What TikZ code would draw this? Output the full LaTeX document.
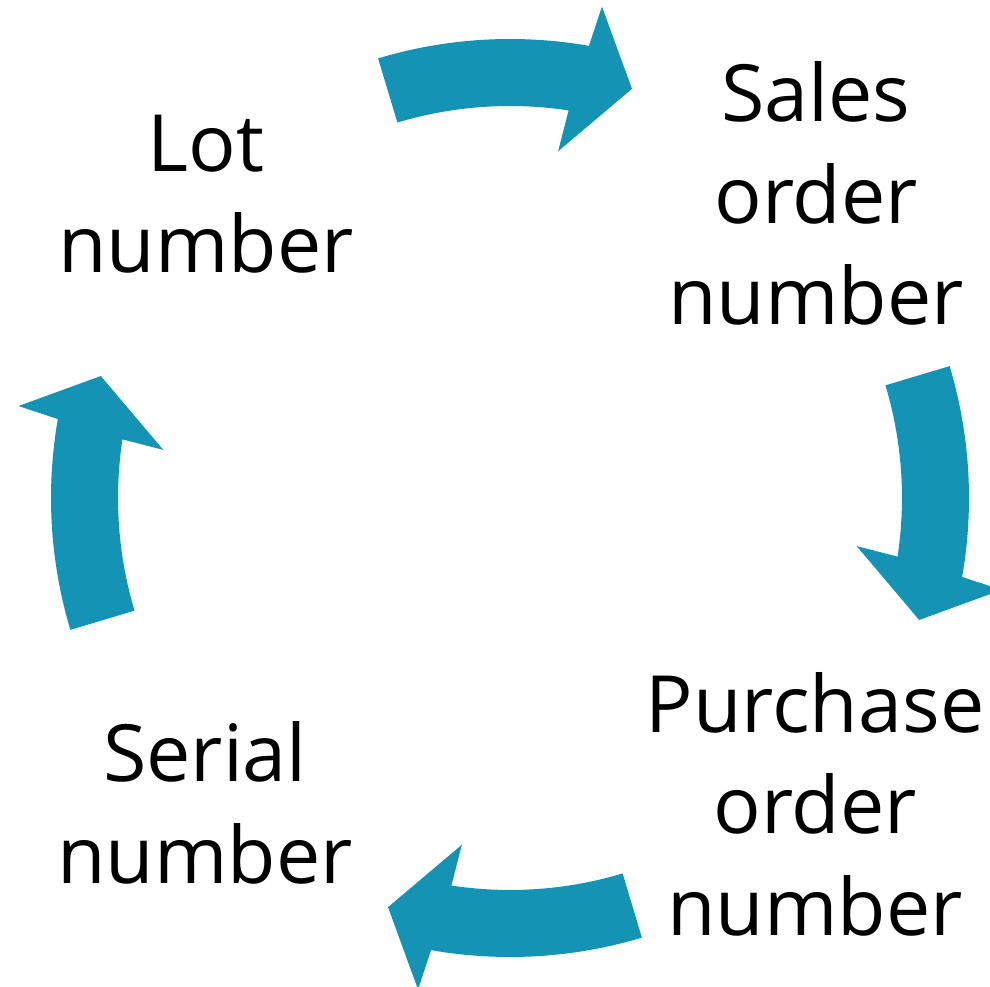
\documentclass[tikz,border=0pt]{standalone}
\usepackage{fontspec}
\setmainfont{Open Sans}
\usepackage{tikz}
\definecolor{cycleblue}{RGB}{21,147,180}
% one curved arrow of the cycle, turned by #1 degrees round the centre
\def\cyclearrow#1{\fill[cycleblue, rotate=#1] (106.7:459) arc[start angle=106.7, end angle=80.1, radius=459] -- (79.4:500) -- (73.4:427) -- (82.1:350) -- (81.4:392) arc[start angle=81.4, end angle=106.7, radius=392] -- cycle;}

\begin{document}
\begin{tikzpicture}[x=1pt, y=1pt,
		cyclelabel/.style={align=center, anchor=base, inner sep=0pt, font=\fontsize{79}{101.5}\selectfont}]
		%%%%% START %%%%%
		
		\useasboundingbox (-510, -489) rectangle (480, 498);
		\clip (-510, -489) rectangle (480, 498);
		
		\cyclearrow{0}
		\cyclearrow{-90}
		\cyclearrow{-180}
		\cyclearrow{-270}
		
		% base anchor sits on the last line
		\node[cyclelabel] (lot) at (-304, 225) {Lot\\number};
		\node[cyclelabel] (sales) at (306, 173) {Sales\\order\\number};
		\node[cyclelabel] (purchase) at (305, -437) {Purchase\\order\\number};
		\node[cyclelabel] (serial) at (-305, -385) {Serial\\number};
		
		%%%%% END %%%%%
	\end{tikzpicture}
\end{document}
